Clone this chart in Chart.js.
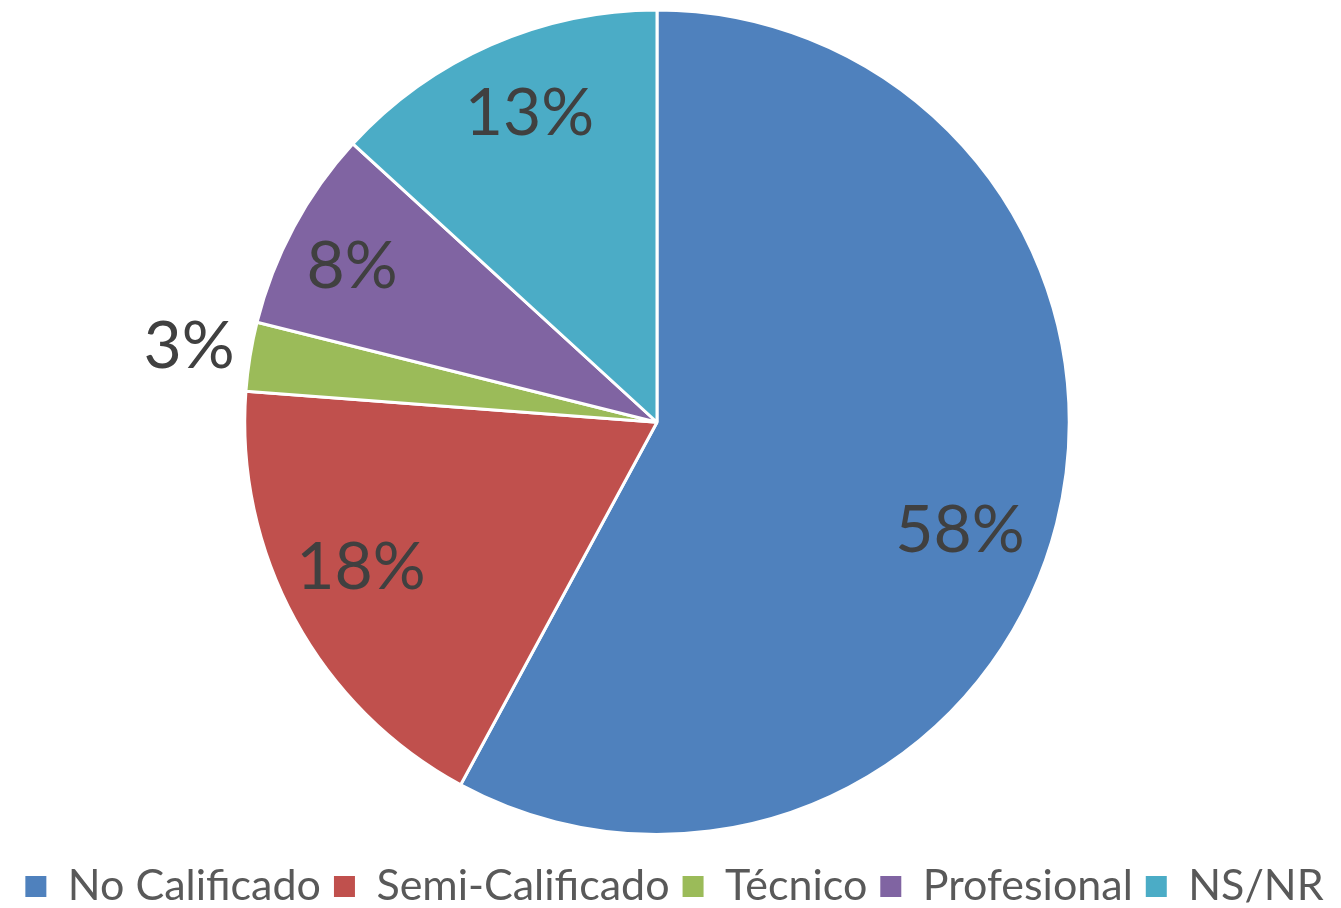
<!DOCTYPE html>
<html>
<head>
<meta charset="utf-8">
<script src="https://cdn.jsdelivr.net/npm/chart.js@4.4.1/dist/chart.umd.min.js"></script>
<style>
  html, body { margin: 0; padding: 0; background: #ffffff; }
  #wrap { width: 1341px; height: 908px; position: relative; }
</style>
</head>
<body>
<div id="wrap"><canvas id="c" width="1341" height="908"></canvas></div>
<script>
const categories = ["No Calificado", "Semi-Calificado", "Técnico", "Profesional", "NS/NR"];
const values = [57.9, 18.3, 2.7, 7.9, 13.2];
const labelTexts = ["58%", "18%", "3%", "8%", "13%"];
const colors = ["#4F81BD", "#C0504D", "#9BBB59", "#8064A2", "#4BACC6"];

// label placement (fraction of radius, angular nudge in degrees)
const labelRadius = [0.78, 0.80, 1.15, 0.83, 0.81];
const labelShift = [5.4, 2.5, 0, -1.3, 1.3];

const labelPlugin = {
  id: 'sliceLabels',
  afterDatasetsDraw(chart) {
    const ctx = chart.ctx;
    const meta = chart.getDatasetMeta(0);
    ctx.save();
    ctx.font = '66px Lato';
    ctx.fillStyle = '#404040';
    ctx.textAlign = 'center';
    ctx.textBaseline = 'middle';
    meta.data.forEach((arc, i) => {
      const p = arc.getProps(['x', 'y', 'startAngle', 'endAngle', 'outerRadius'], true);
      const mid = (p.startAngle + p.endAngle) / 2 + labelShift[i] * Math.PI / 180;
      const r = p.outerRadius * labelRadius[i];
      ctx.fillText(labelTexts[i], p.x + Math.cos(mid) * r, p.y + Math.sin(mid) * r);
    });
    ctx.restore();
  }
};

// pie sits slightly left of the canvas centre, legend spans full width
const areaShift = {
  id: 'areaShift',
  afterLayout(chart) {
    chart.chartArea.right -= 27;
    chart.chartArea.width -= 27;
    if (chart.legend) {
      chart.legend.left += 4; chart.legend.right += 4;
      chart.legend.top += 16; chart.legend.bottom += 16;
    }
  }
};

const defaultGen = Chart.overrides.pie.plugins.legend.labels.generateLabels;

new Chart(document.getElementById('c'), {
  type: 'pie',
  data: {
    labels: categories,
    datasets: [{
      data: values,
      backgroundColor: colors,
      borderColor: '#ffffff',
      borderWidth: 3
    }]
  },
  options: {
    responsive: false,
    animation: false,
    layout: { padding: { top: 8.5, right: 0, left: 0, bottom: 6 } },
    plugins: {
      tooltip: { enabled: false },
      legend: {
        position: 'bottom',
        labels: {
          font: { family: 'Lato', size: 43 },
          color: '#595959',
          boxWidth: 21,
          boxHeight: 21,
          padding: 13,
          generateLabels(chart) {
            return defaultGen(chart).map(item => Object.assign(item, { lineWidth: 0 }));
          }
        }
      }
    }
  },
  plugins: [labelPlugin, areaShift]
});
</script>
</body>
</html>
